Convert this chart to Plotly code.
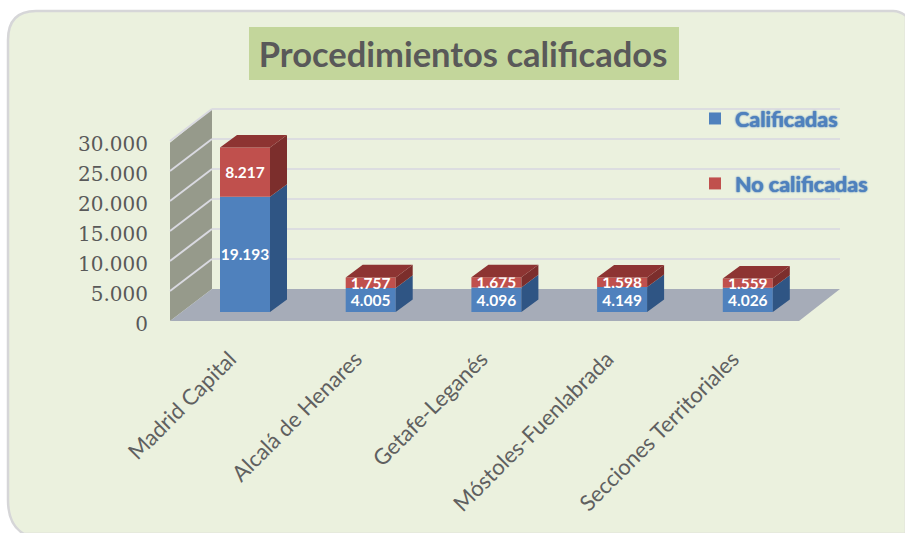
import plotly.graph_objects as go

categories = ["Madrid Capital", "Alcalá de Henares", "Getafe-Leganés", "Móstoles-Fuenlabrada", "Secciones Territoriales"]
calificadas = [19193, 4005, 4096, 4149, 4026]
no_calificadas = [8217, 1757, 1675, 1598, 1559]
y_ticks = [0, 5000, 10000, 15000, 20000, 25000, 30000]

W, H = 905, 533
# pixel geometry of the pseudo-3D box
PX_PER_UNIT = 0.006
Y0_PX = 321
X0_PX = 245
STEP_PX = 125.7
BAR_W_PX = 50
BAR_DX_PX, BAR_DY_PX = 17, 12.6
WALL_L, WALL_B = 170, 212
WALL_R_FRONT, WALL_R_BACK = 799, 840
WALL_DY_PX = 32
LIFT_PX = 9

def xv(px):
    return (px - X0_PX) / STEP_PX
def yv(py):
    return (Y0_PX - py) / PX_PER_UNIT

BASE = LIFT_PX / PX_PER_UNIT
BAR_W = BAR_W_PX / STEP_PX
DX = BAR_DX_PX / STEP_PX
DY = BAR_DY_PX / PX_PER_UNIT
WDY = WALL_DY_PX / PX_PER_UNIT
SEP = lambda v: f"{v:,}".replace(",", ".")

xs = list(range(len(categories)))
blue_top = [BASE + c for c in calificadas]
red_top = [BASE + c + n for c, n in zip(calificadas, no_calificadas)]

def side(bottoms, tops):
    X, Y = [], []
    for i, b, t in zip(xs, bottoms, tops):
        r = i + BAR_W / 2
        X += [r, r + DX, r + DX, r, r, None]
        Y += [b, b + DY, t + DY, t, b, None]
    return X, Y

def top(tops):
    X, Y = [], []
    for i, t in zip(xs, tops):
        l, r = i - BAR_W / 2, i + BAR_W / 2
        X += [l, r, r + DX, l + DX, l, None]
        Y += [t, t, t + DY, t + DY, t, None]
    return X, Y

def poly(pts):
    return "M " + " L ".join(f"{x},{y}" for x, y in pts) + " Z"

shapes = []
# rounded panel
panel_path = (f"M {xv(24)},{yv(534)} Q {xv(8)},{yv(525)} {xv(8)},{yv(500)} L {xv(8)},{yv(40)} "
              f"Q {xv(8)},{yv(11)} {xv(36)},{yv(11)} L {xv(893)},{yv(11)} Q {xv(900)},{yv(11)} {xv(906)},{yv(16)} "
              f"L {xv(906)},{yv(534)} Z")
shapes.append(dict(type="path", path=panel_path, xref="x", yref="y", layer="below",
                   fillcolor="#ebf1de", line=dict(color="#d6d6d8", width=2.5)))
# title box
shapes.append(dict(type="rect", xref="x", yref="y", x0=xv(249), x1=xv(679), y0=yv(80), y1=yv(27),
                   layer="below", fillcolor="#c3d69b", line=dict(width=0)))
# left wall
shapes.append(dict(type="path", xref="x", yref="y", layer="below", fillcolor="#969a8b", line=dict(width=0),
                   path=poly([(xv(WALL_L), 0), (xv(WALL_B), WDY), (xv(WALL_B), 30000 + WDY), (xv(WALL_L), 29700)])))
# floor
shapes.append(dict(type="path", xref="x", yref="y", layer="below", fillcolor="#a6acb8", line=dict(width=0),
                   path=poly([(xv(WALL_L), 0), (xv(WALL_B), WDY), (xv(WALL_R_BACK), WDY), (xv(WALL_R_FRONT), 0)])))
# gridlines on side wall and back wall
for t in y_ticks:
    if t == 0:
        continue
    shapes.append(dict(type="line", xref="x", yref="y", layer="below", line=dict(color="#d9d9e0", width=2),
                       x0=xv(WALL_L), y0=t, x1=xv(WALL_B), y1=t + WDY))
    shapes.append(dict(type="line", xref="x", yref="y", layer="below", line=dict(color="#dcdde0", width=2),
                       x0=xv(WALL_B), y0=t + WDY, x1=xv(WALL_R_BACK), y1=t + WDY))

fig = go.Figure()
label_font = dict(family="Lato", size=15.5, color="white", weight="bold")
fig.add_trace(go.Bar(name="Calificadas", x=xs, y=calificadas, base=[BASE] * 5, width=BAR_W,
                     marker=dict(color="#4f81bd", line=dict(width=0)), legendgroup="a",
                     text=[SEP(v) for v in calificadas], textposition="inside", textangle=0,
                     insidetextanchor="middle", constraintext="none", insidetextfont=label_font))
fig.add_trace(go.Bar(name="No calificadas", x=xs, y=no_calificadas, base=blue_top, width=BAR_W,
                     marker=dict(color="#c0504d", line=dict(width=0)), legendgroup="b",
                     text=[SEP(v) for v in no_calificadas], textposition="inside", textangle=0,
                     insidetextanchor="middle", constraintext="none", insidetextfont=label_font))

for (X, Y), col in [(side([BASE] * 5, blue_top), "#2f5584"),
                    (side(blue_top, red_top), "#7c2e2c"),
                    (top(red_top), "#8d3432")]:
    fig.add_trace(go.Scatter(x=X, y=Y, mode="lines", fill="toself", fillcolor=col, line=dict(width=0),
                             showlegend=False, hoverinfo="skip"))

fig.update_layout(
    width=W, height=H, margin=dict(l=0, r=0, t=0, b=0), autosize=False,
    paper_bgcolor="white", plot_bgcolor="rgba(0,0,0,0)", barmode="overlay", separators=",.",
    shapes=shapes,
    title=dict(text="Procedimientos calificados", x=463 / W, y=1 - 55 / H, xanchor="center", yanchor="middle",
               xref="paper", yref="paper", font=dict(family="Lato", size=34.5, color="#595959", weight="bold")),
    legend=dict(x=703 / W, y=1 - 98 / H, xanchor="left", yanchor="top", tracegroupgap=34,
                bgcolor="rgba(0,0,0,0)", borderwidth=0, itemwidth=30, traceorder="grouped", indentation=-8,
                font=dict(family="Lato", size=21.5, color="#4f81bd", weight="bold",
                          shadow="0 0 1px #4f81bd, 0 0 2px #4f81bd")),
    xaxis=dict(range=[xv(0), xv(W)], tickvals=xs, ticktext=categories, tickangle=-45,
               anchor="free", position=1 - Y0_PX / H, showgrid=False, zeroline=False, showline=False,
               ticks="", ticklabelstandoff=20, ticklabelshift=-15, automargin=False,
               tickfont=dict(family="Lato", size=22, color="#5f6060")),
    yaxis=dict(range=[yv(H), yv(0)], tickvals=y_ticks, tickformat=",d",
               anchor="free", position=WALL_L / W, showgrid=False, zeroline=False, showline=False,
               ticks="", ticklabelstandoff=22, ticklabelshift=3, automargin=False,
               tickfont=dict(family="DejaVu Serif", size=20, color="#595959")),
)
fig.write_html("out.html", post_script="document.body.style.margin='0';",
               config=dict(displayModeBar=False))
